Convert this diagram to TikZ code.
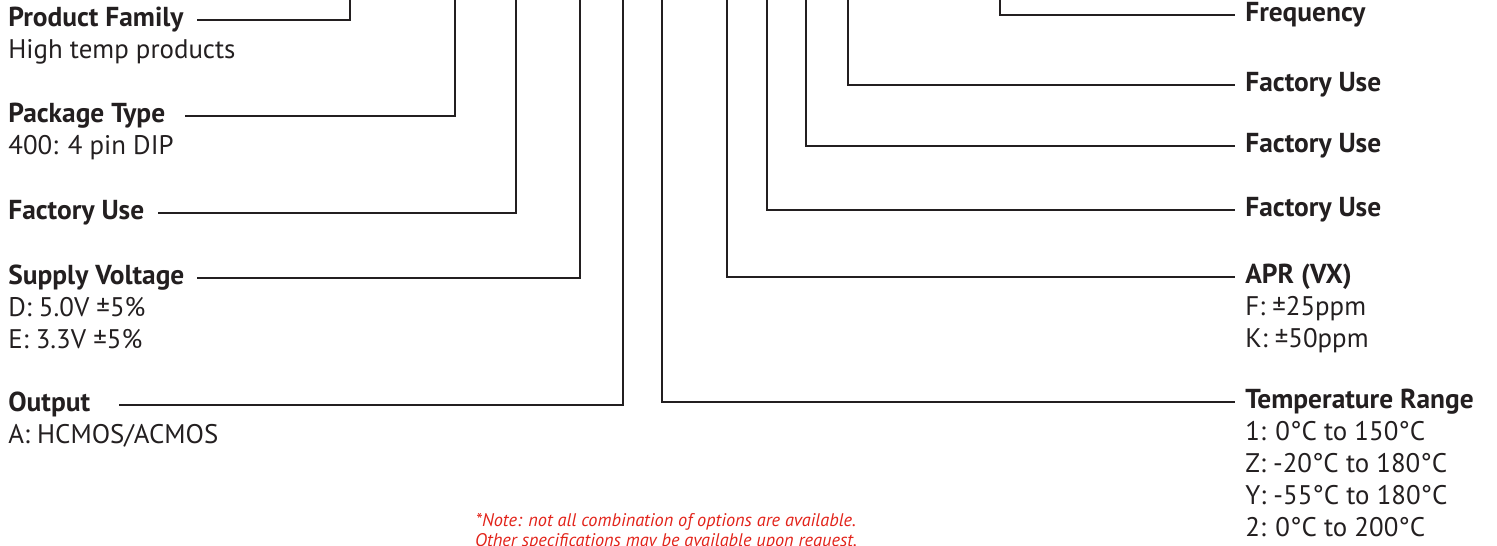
\documentclass[tikz,border=0pt]{standalone}
\usepackage{fontspec}
\setmainfont{PT Sans}
\usetikzlibrary{positioning}
\definecolor{ink}{HTML}{231F20}
\definecolor{notered}{HTML}{E2231A}

\begin{document}
\begin{tikzpicture}[
  x=0.02cm, y=-0.02cm,
  font=\fontsize{15.3}{18.2}\selectfont,
  head/.style={anchor=west, inner sep=0pt, text height=0.7em, text depth=0pt,
    text=ink, font=\fontsize{15.6}{18.2}\selectfont\bfseries},
  % base of a multi-line node sits on its last line
  detail/.style={anchor=base west, inner sep=0pt, align=left, text=ink},
  lead/.style={draw=ink, line width=0.04cm},
  note/.style={anchor=base, inner sep=0pt, align=center, text=notered,
    font=\fontsize{10.4}{11.4}\selectfont\itshape},
]
\useasboundingbox (0,0) rectangle (1497,546);

% Left column headings
\node[head] (fam)  at (8,20)  {Product Family};
\node[head] (pkg)  at (8,116) {Package Type};
\node[head] (fac1) at (8,213) {Factory Use};
\node[head] (vdd)  at (8,278) {Supply Voltage};
\node[head] (out)  at (8,405) {Output};

\node[detail] at ([yshift=-0.64cm]fam.south west) {High temp products};
\node[detail] at ([yshift=-0.64cm]pkg.south west) {400: 4 pin DIP};
\node[detail] at ([yshift=-1.28cm]vdd.south west) {D: 5.0V ±5\%\\E: 3.3V ±5\%};
\node[detail] at ([yshift=-0.64cm]out.south west) {A: HCMOS/ACMOS};

% Right column headings
\node[head] (frq)  at (1245,15)  {Frequency};
\node[head] (fac2) at (1245,85)  {Factory Use};
\node[head] (fac3) at (1245,146) {Factory Use};
\node[head] (fac4) at (1245,210) {Factory Use};
\node[head] (apr)  at (1245,277) {APR (VX)};
\node[head] (tmp)  at (1245,402) {Temperature Range};

\node[detail] at ([yshift=-1.28cm]apr.south west) {F: ±25ppm\\K: ±50ppm};
\node[detail] at ([yshift=-2.56cm]tmp.south west)
  {1: 0°C to 150°C\\Z: -20°C to 180°C\\Y: -55°C to 180°C\\2: 0°C to 200°C};

% Top ends of the leaders (part number digits sit above the picture)
\coordinate (famTop)  at (350,0);
\coordinate (pkgTop)  at (455,0);
\coordinate (fac1Top) at (516,0);
\coordinate (vddTop)  at (580,0);
\coordinate (outTop)  at (623,0);
\coordinate (tmpTop)  at (662,0);
\coordinate (aprTop)  at (727,0);
\coordinate (fac4Top) at (767,0);
\coordinate (fac3Top) at (806,0);
\coordinate (fac2Top) at (848,0);
\coordinate (frqTop)  at (1000,0);

% Left leaders
\draw[lead] (197,0 |- fam.west)  -| (famTop);
\draw[lead] (185,0 |- pkg.west)  -| (pkgTop);
\draw[lead] (158,0 |- fac1.west) -| (fac1Top);
\draw[lead] (197,0 |- vdd.west)  -| (vddTop);
\draw[lead] (119,0 |- out.west)  -| (outTop);

% Right leaders
\draw[lead] (tmpTop)  |- (1235,0 |- tmp.west);
\draw[lead] (aprTop)  |- (1235,0 |- apr.west);
\draw[lead] (fac4Top) |- (1235,0 |- fac4.west);
\draw[lead] (fac3Top) |- (1235,0 |- fac3.west);
\draw[lead] (fac2Top) |- (1235,0 |- fac2.west);
\draw[lead] (frqTop)  |- (1235,0 |- frq.west);

% Footnote
\node[note] (remark) at (666,547)
  {*Note: not all combination of options are available.\\Other specifications may be available upon request.};
\end{tikzpicture}
\end{document}
